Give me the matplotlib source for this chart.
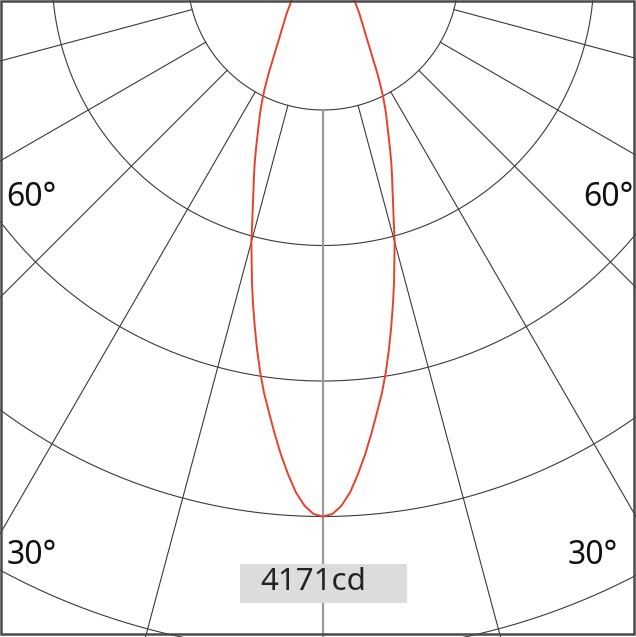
import numpy as np
import matplotlib
matplotlib.use("Agg")
import matplotlib.pyplot as plt
from matplotlib.patches import Rectangle
from matplotlib.transforms import Bbox

# ---- data (luminous intensity distribution, symmetric beam) ----
I_MAX = 4171  # cd
angles_deg = [0, 1, 2, 3, 4, 5, 6, 7, 8, 9, 10, 11, 12, 13, 14, 15, 16, 17,
              18, 19, 20, 21, 22, 23, 24, 25, 26, 27, 28, 29, 30, 32, 34, 36,
              38, 40, 43, 46, 50, 55, 60, 70, 80, 90]
intensity_cd = [4171, 4152, 4090, 3990, 3855, 3710, 3555, 3400, 3255, 3095,
                2925, 2755, 2590, 2430, 2270, 2130, 1975, 1845, 1730, 1630,
                1535, 1440, 1350, 1270, 1200, 1130, 1060, 990, 920, 855, 790,
                690, 610, 550, 500, 460, 410, 365, 318, 265, 220, 140, 70, 0]
grid_angles_deg = list(range(-180, 181, 15))
n_rings = 5
angle_labels = ["60°", "60°", "30°", "30°"]
max_label = "4171cd"

# ---- figure ----
W, H = 636, 637
fig = plt.figure(figsize=(W / 100, H / 100), dpi=100)
fig.patch.set_facecolor("white")

ring_step = I_MAX / 4.0
px_per_step = 135.5
R_units = 6
Rpx = R_units * px_per_step
cx, cy = 323.0, H + 25.5  # centre in pixels from bottom-left
ax = fig.add_axes([(cx - Rpx) / W, (cy - Rpx) / H, 2 * Rpx / W, 2 * Rpx / H],
                  projection="polar")
ax.set_theta_zero_location("S")
ax.set_theta_direction(1)
ax.set_ylim(0, R_units * ring_step)
ax.grid(False)
ax.set_xticks([])
ax.set_yticks([])
ax.spines["polar"].set_visible(False)
ax.patch.set_facecolor("white")

grid_col = "#3a3a3a"
# rings
th = np.linspace(0, 2 * np.pi, 1441)
for k in range(1, n_rings + 1):
    ax.plot(th, np.full_like(th, k * ring_step), color=grid_col, lw=0.8,
            zorder=2)
# spokes (start at first ring)
for a in grid_angles_deg:
    if a == 0:
        continue
    t = np.deg2rad(a)
    ax.plot([t, t], [ring_step, R_units * ring_step], color=grid_col, lw=0.8,
            zorder=2)
ax.plot([0.0, 0.0], [ring_step, R_units * ring_step], color="#9a9a9a", lw=1.6,
        zorder=3)

# intensity curve (mirror for both halves)
a = np.array(angles_deg, dtype=float)
v = np.array(intensity_cd, dtype=float)
theta_curve = np.deg2rad(np.concatenate([-a[::-1], a[1:]]))
r_curve = np.concatenate([v[::-1], v[1:]])
curve, = ax.plot(theta_curve, r_curve, color="#e8412c", lw=1.4, zorder=4,
                 solid_joinstyle="round")

# ---- frame & labels ----
def fx(px):
    return px / W

def fy(py_top):
    return (H - py_top) / H

clip = Bbox.from_extents(2.5, H - 632.5, 632.5, H - 2.0)
font = ["Noto Sans", "DejaVu Sans"]
label_pos = [(6.5, 206), (583.5, 206), (6.5, 563.5), (567.5, 563.5)]
for txt, (x, y) in zip(angle_labels, label_pos):
    t = fig.text(fx(x), fy(y), txt, fontsize=23, family=font, color="#111111",
                 ha="left", va="baseline", zorder=10)
    t.set_clip_box(clip)
    t.set_clip_on(True)

box = Rectangle((fx(240), fy(603.3)), fx(406.5) - fx(240), fy(564.3) - fy(603.3),
                transform=fig.transFigure, facecolor="#dcdcdc", edgecolor="none",
                zorder=9)
fig.add_artist(box)
fig.text(fx(260.5), fy(590), max_label, fontsize=22.5, family=font,
         color="#222222", ha="left", va="baseline", zorder=10)

frame = Rectangle((fx(1.2), fy(633.5)), fx(633.5) - fx(1.2), fy(1.0) - fy(633.5),
                  transform=fig.transFigure, facecolor="none",
                  edgecolor="#4a4a4a", lw=1.8, zorder=20)
fig.add_artist(frame)

fig.savefig("out.png", dpi=100)
